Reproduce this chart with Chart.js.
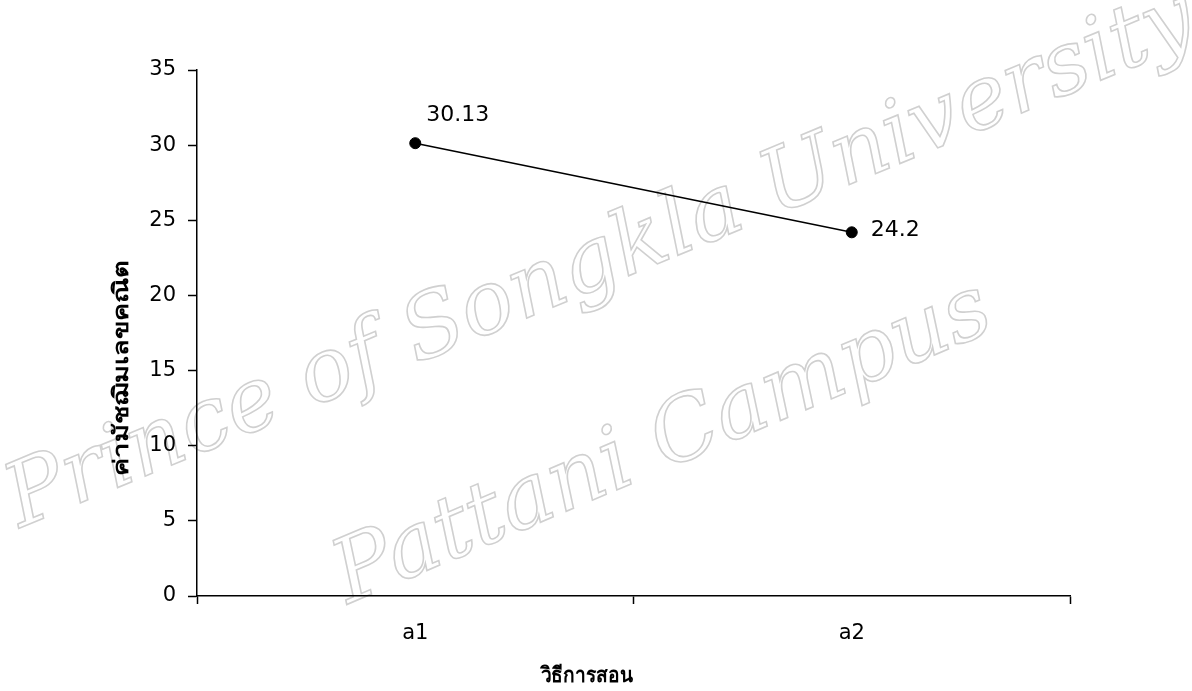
<!DOCTYPE html>
<html>
<head>
<meta charset="utf-8">
<script src="https://cdn.jsdelivr.net/npm/chart.js@4"></script>
<style>
  html, body { margin: 0; padding: 0; background: #fff; }
  #meanChart { display: block; }
</style>
</head>
<body>
<canvas id="meanChart" width="1192" height="691"></canvas>
<script>
var methods = ['a1', 'a2'];
var meanScores = [30.13, 24.2];
var yTicks = [0, 5, 10, 15, 20, 25, 30, 35];
var xTitle = 'วิธีการสอน';
var yTitle = 'ค่ามัชฌิมเลขคณิต';

var baseFont = '"DejaVu Sans", Arial, sans-serif';

// faint outlined watermark behind the chart
var watermark = {
    id: 'watermark',
    beforeDraw: function (chart) {
        var ctx = chart.ctx;
        ctx.save();
        ctx.fillStyle = '#fff';
        ctx.fillRect(0, 0, chart.width, chart.height);
        ctx.strokeStyle = '#d0d0d0';
        ctx.lineWidth = 1.6;
        ctx.font = 'italic 88px "DejaVu Serif", serif';
        ctx.textBaseline = 'alphabetic';

        ctx.save();
        ctx.translate(20, 528);
        ctx.rotate(-22.5 * Math.PI / 180);
        ctx.strokeText('Prince of Songkla University', 0, 0);
        ctx.restore();

        ctx.save();
        ctx.translate(348, 604);
        ctx.rotate(-23 * Math.PI / 180);
        ctx.strokeText('Pattani Campus', 0, 0);
        ctx.restore();
        ctx.restore();
    }
};

// value labels next to each point
var valueLabels = {
    id: 'valueLabels',
    afterDatasetsDraw: function (chart, args, opts) {
        var ctx = chart.ctx;
        var meta = chart.getDatasetMeta(0);
        ctx.save();
        ctx.font = '22px ' + baseFont;
        ctx.fillStyle = '#000';
        ctx.textAlign = 'left';
        ctx.textBaseline = 'middle';
        meta.data.forEach(function (pt, i) {
            var off = opts.offsets[i];
            ctx.fillText(String(meanScores[i]), pt.x + off.dx, pt.y + off.dy);
        });
        ctx.restore();
    }
};

// axis titles, placed like the Excel original (stretched to its length)
var axisTitles = {
    id: 'axisTitles',
    afterDraw: function (chart, args, opts) {
        var ctx = chart.ctx;
        var area = chart.chartArea;
        ctx.save();
        ctx.font = 'bold 21px ' + baseFont;
        ctx.fillStyle = '#000';
        ctx.textAlign = 'center';
        ctx.textBaseline = 'middle';

        var xw = ctx.measureText(xTitle).width;
        ctx.save();
        ctx.translate((area.left + area.right) / 2 - 47, area.bottom + 81);
        ctx.scale(opts.xLength / xw, 1);
        ctx.fillText(xTitle, 0, 0);
        ctx.restore();

        var yw = ctx.measureText(yTitle).width;
        ctx.save();
        ctx.translate(area.left - 74, (area.top + area.bottom) / 2 + 35);
        ctx.rotate(-Math.PI / 2);
        ctx.scale(opts.yLength / yw, 1);
        ctx.fillText(yTitle, 0, 0);
        ctx.restore();
        ctx.restore();
    }
};

var ctx = document.getElementById('meanChart');
new Chart(ctx, {
    type: 'line',
    data: {
        labels: methods,
        datasets: [{
            data: meanScores,
            borderColor: '#000',
            borderWidth: 1.6,
            backgroundColor: '#000',
            pointRadius: 5.5,
            pointHoverRadius: 5.5,
            pointBorderWidth: 1,
            pointBackgroundColor: '#000',
            pointBorderColor: '#000',
            fill: false,
            tension: 0
        }]
    },
    plugins: [watermark, valueLabels, axisTitles],
    options: {
        responsive: false,
        devicePixelRatio: 1,
        animation: false,
        events: [],
        layout: {
            padding: { left: 0, right: 122, top: 70, bottom: 0 }
        },
        plugins: {
            legend: { display: false },
            tooltip: { enabled: false },
            valueLabels: {
                offsets: [{ dx: 11, dy: -28 }, { dx: 19, dy: -2 }]
            },
            axisTitles: { xLength: 92, yLength: 216 }
        },
        scales: {
            x: {
                offset: true,
                afterFit: function (s) { s.height = 95; },
                grid: {
                    offset: true,
                    drawOnChartArea: false,
                    color: '#000',
                    tickLength: 8,
                    tickWidth: 1.5
                },
                border: { color: '#000', width: 1.5 },
                ticks: {
                    color: '#000',
                    padding: 17,
                    font: { family: baseFont, size: 21 }
                }
            },
            y: {
                min: 0,
                max: 35,
                afterFit: function (s) { s.width = 197; },
                afterBuildTicks: function (s) {
                    s.ticks = yTicks.map(function (v) { return { value: v }; });
                },
                grid: {
                    drawOnChartArea: false,
                    color: '#000',
                    tickLength: 9,
                    tickWidth: 1.5
                },
                border: { color: '#000', width: 1.5 },
                ticks: {
                    color: '#000',
                    padding: 12,
                    font: { family: baseFont, size: 21 }
                }
            }
        }
    }
});
</script>
</body>
</html>
